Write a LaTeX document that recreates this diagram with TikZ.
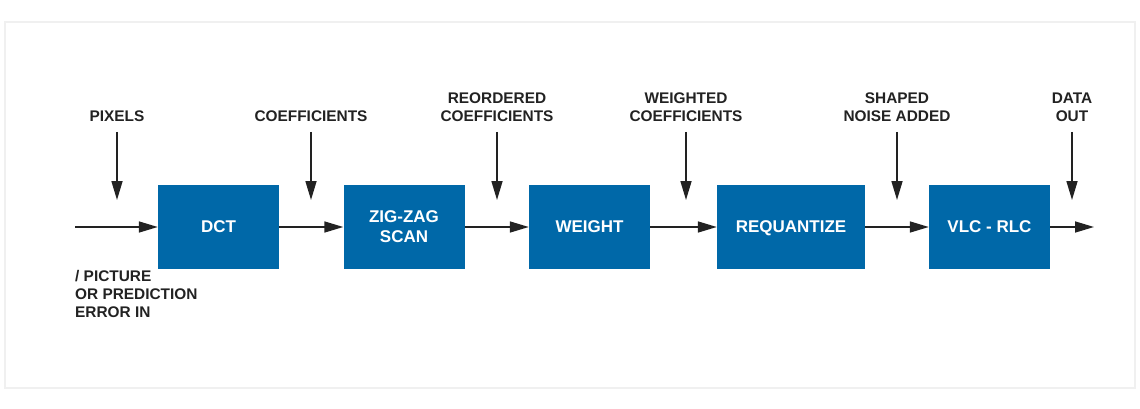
\documentclass[tikz,border=0pt]{standalone}
\usepackage{fontspec}
\setmainfont{Liberation Sans}
\usetikzlibrary{arrows.meta,positioning}
\definecolor{adiblue}{HTML}{0068A8}
\definecolor{txtgray}{HTML}{222222}
\definecolor{framegray}{HTML}{F0F0F0}
\begin{document}
\begin{tikzpicture}
          [x=1pt,y=-1pt,
           stage/.style={rectangle,fill=adiblue,text=white,font=\bfseries\fontsize{17}{20}\selectfont,
                         minimum width=121pt,minimum height=84pt,align=center,inner sep=0pt},
           lbl/.style={text=txtgray,font=\bfseries\fontsize{15.4}{18}\selectfont,align=center,
                       anchor=south,inner xsep=0pt,inner ysep=10.5pt},
           arr/.style={draw=txtgray,line width=1.6pt,-{Triangle[length=19pt,width=11pt]}}]
          \useasboundingbox (0,0) rectangle (1140,409);
          \draw[framegray,line width=1.5pt] (5,22) rectangle (1135,388);

          % processing stages
          \node[stage] (dct)   at (218.5,227) {DCT};
          \node[stage] (zig)   at (404,227)   {ZIG-ZAG\\SCAN};
          \node[stage] (wgt)   at (589.5,227) {WEIGHT};
          \node[stage,minimum width=148pt,text depth=0pt] (req) at (791,227) {REQUANTIZE};
          \node[stage] (vlc)   at (989.5,227) {VLC - RLC};
          \coordinate (in)  at (75,227);
          \coordinate (out) at (1094,227);

          % signal labels
          \node[lbl] (pix) at (117,132)  {PIXELS};
          \node[lbl] (cof) at (311,132)  {COEFFICIENTS};
          \node[lbl] (roc) at (497,132)  {REORDERED\\COEFFICIENTS};
          \node[lbl] (wtc) at (686,132)  {WEIGHTED\\COEFFICIENTS};
          \node[lbl] (shn) at (897,132)  {SHAPED\\NOISE ADDED};
          \node[lbl] (dat) at (1072,132) {DATA\\OUT};
          \node[text=txtgray,font=\bfseries\fontsize{15.4}{18}\selectfont,align=left,
                anchor=north west,inner sep=0pt] (pic) at (75,270) {/ PICTURE\\OR PREDICTION\\ERROR IN};

          \foreach \from/\to in {in/dct,dct/zig,zig/wgt,wgt/req,req/vlc,vlc/out}
            \draw[arr] (\from) -- (\to);

          \foreach \lab/\x in {pix/117,cof/311,roc/497,wtc/686,shn/897,dat/1072}
            {\coordinate (\lab-end) at (\x,200);
             \draw[arr] (\lab.south) -- (\lab-end);}
        \end{tikzpicture}
\end{document}
